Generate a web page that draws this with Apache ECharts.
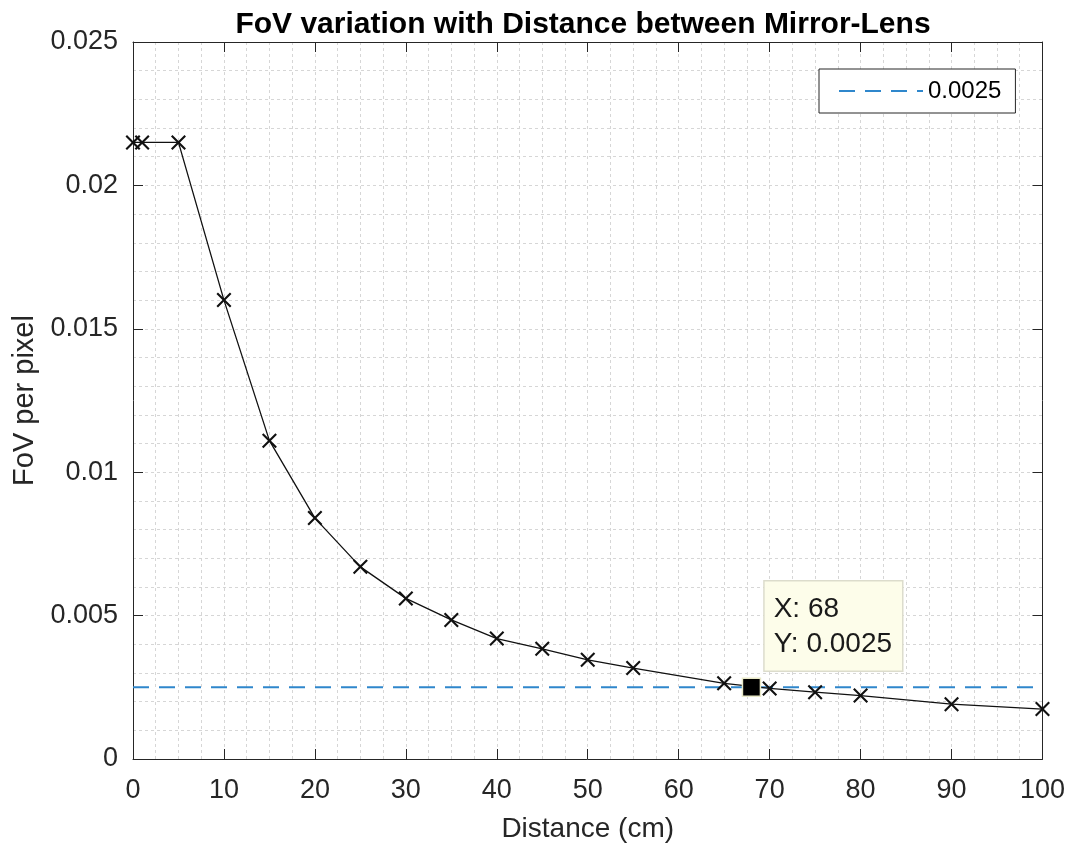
<!DOCTYPE html>
<html>
<head>
<meta charset="utf-8">
<script src="https://cdn.jsdelivr.net/npm/echarts@6/dist/echarts.min.js"></script>
<style>
  html, body { margin: 0; padding: 0; background: #fff; }
  #main { width: 1068px; height: 850px; }
</style>
</head>
<body>
<div id="main"></div>
<script>
// measured curve (distance in cm, FoV per pixel)
var distance = [0, 1, 5, 10, 15, 20, 25, 30, 35, 40, 45, 50, 55, 65, 70, 75, 80, 90, 100];
var fov = [0.0215, 0.0215, 0.0215, 0.0160, 0.0111, 0.0084, 0.0067, 0.0056, 0.00485, 0.0042,
           0.00384, 0.00346, 0.00317, 0.00264, 0.00246, 0.00233, 0.00221, 0.00191, 0.00174];
// horizontal reference line
var refX = [0, 100];
var refY = 0.0025;
// data tip
var tipX = 68;
var tipY = 0.0025;

var font = 'Liberation Sans, Arial, Helvetica, sans-serif';
var axisCol = '#262626';
var crossPath = 'path://M0,1L1,0L5,4L9,0L10,1L6,5L10,9L9,10L5,6L1,10L0,9L4,5Z';

var chart = echarts.init(document.getElementById('main'));

var gridLine = { show: true, lineStyle: { color: '#d6d6d6', type: [3, 3], width: 1 } };

function yFmt(v) { return String(+v.toFixed(4)); }

chart.setOption({
  backgroundColor: '#fff',
  animation: false,
  title: {
    text: 'FoV variation with Distance between Mirror-Lens',
    left: 578, top: 5, textAlign: 'center',
    textStyle: { fontFamily: font, fontSize: 30, fontWeight: 'bold', color: '#000' }
  },
  legend: {
    data: ['0.0025'],
    left: 819, top: 69,
    padding: [10, 14, 10, 19],
    itemWidth: 84, itemHeight: 14,
    borderColor: axisCol, borderWidth: 1,
    backgroundColor: '#fff',
    itemStyle: { opacity: 0 },
    textStyle: { fontFamily: font, fontSize: 24, color: '#000' }
  },
  grid: { left: 133, right: 24, top: 42, bottom: 91 },
  xAxis: [{
    type: 'value', min: 0, max: 100, interval: 10,
    name: 'Distance (cm)', nameLocation: 'middle', nameGap: 56,
    nameTextStyle: { fontFamily: font, fontSize: 28, color: axisCol },
    axisLine: { show: true, onZero: false, lineStyle: { color: axisCol, width: 1 } },
    axisTick: { show: true, inside: true, length: 10, lineStyle: { color: axisCol } },
    axisLabel: { fontFamily: font, fontSize: 27, color: axisCol, margin: 18 },
    splitLine: gridLine,
    minorTick: { show: false, splitNumber: 4 },
    minorSplitLine: gridLine
  }, {
    type: 'value', min: 0, max: 100, interval: 10, position: 'top',
    axisLine: { show: true, onZero: false, lineStyle: { color: axisCol, width: 1 } },
    axisTick: { show: true, inside: true, length: 10, lineStyle: { color: axisCol } },
    axisLabel: { show: false },
    splitLine: { show: false }
  }],
  yAxis: [{
    type: 'value', min: 0, max: 0.025, interval: 0.005,
    name: 'FoV per pixel', nameLocation: 'middle', nameGap: 92,
    nameTextStyle: { fontFamily: font, fontSize: 29, color: axisCol },
    axisLine: { show: true, onZero: false, lineStyle: { color: axisCol, width: 1 } },
    axisTick: { show: true, inside: true, length: 10, lineStyle: { color: axisCol } },
    axisLabel: { fontFamily: font, fontSize: 27, color: axisCol, margin: 15, formatter: yFmt },
    splitLine: gridLine,
    minorTick: { show: false, splitNumber: 5 },
    minorSplitLine: gridLine
  }, {
    type: 'value', min: 0, max: 0.025, interval: 0.005, position: 'right',
    axisLine: { show: true, onZero: false, lineStyle: { color: axisCol, width: 1 } },
    axisTick: { show: true, inside: true, length: 10, lineStyle: { color: axisCol } },
    axisLabel: { show: false },
    splitLine: { show: false }
  }],
  series: [
    {
      name: 'FoV',
      type: 'line',
      data: distance.map(function (d, i) { return [d, fov[i]]; }),
      symbol: crossPath, symbolSize: 15,
      itemStyle: { color: '#111' },
      lineStyle: { color: '#111', width: 1.3 },
      z: 3
    },
    {
      name: '0.0025',
      type: 'line',
      data: refX.map(function (d) { return [d, refY]; }),
      symbol: 'none',
      lineStyle: { color: '#2f87cc', width: 2, type: [16, 10] },
      itemStyle: { color: '#2f87cc' },
      z: 2
    },
    {
      name: 'tip',
      type: 'scatter',
      data: [[tipX, tipY]],
      symbol: 'rect', symbolSize: 18,
      itemStyle: { color: '#000', opacity: 1, borderColor: '#e9e9c8', borderWidth: 1.5 },
      label: {
        show: true,
        position: [23, -96],
        align: 'left', verticalAlign: 'top',
        formatter: 'X: ' + tipX + '\nY: ' + tipY,
        fontFamily: font, fontSize: 28, lineHeight: 35, color: '#1a1a1a',
        backgroundColor: '#fdfdea',
        borderColor: '#dcdccc', borderWidth: 1.5,
        padding: [10, 10, 9, 9]
      },
      z: 5
    }
  ]
});
</script>
</body>
</html>
